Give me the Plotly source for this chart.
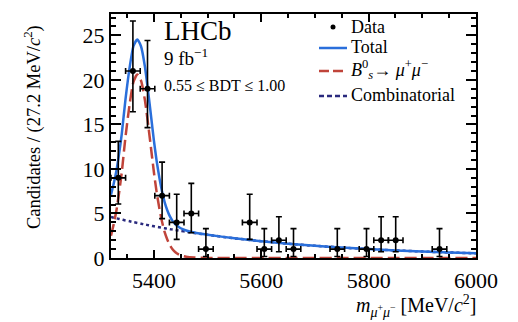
import plotly.graph_objects as go

# ---- binned data: 27.2 MeV/c^2 bins between 5320 and 6000 (empty bins omitted) ----
bin_centers = [5333.6, 5360.8, 5388.0, 5415.2, 5442.4, 5469.6, 5496.8, 5578.4,
               5605.6, 5632.8, 5660.0, 5741.6, 5796.0, 5823.2, 5850.4, 5932.0]
counts = [9, 21, 19, 7, 4, 5, 1, 4, 1, 2, 1, 1, 1, 2, 2, 1]
err_up = [4.10, 5.61, 5.43, 3.77, 3.16, 3.38, 2.30, 3.16,
          2.30, 2.64, 2.30, 2.30, 2.30, 2.64, 2.64, 2.30]
err_down = [2.94, 4.58, 4.36, 2.58, 1.91, 2.16, 0.83, 1.91,
            0.83, 1.29, 0.83, 0.83, 0.83, 1.29, 1.29, 0.83]
half_bin = [13.6] * len(bin_centers)

# ---- fit components (candidates per bin) ----
curve_mass = [5320, 5325, 5330, 5335, 5340, 5347, 5355, 5362, 5369, 5376, 5383, 5390,
              5395, 5400, 5405, 5410, 5415, 5420, 5425, 5430, 5435, 5440, 5445, 5450,
              5460, 5475, 5500, 5550, 5600, 5650, 5700, 5750, 5800, 5850, 5900, 5950, 6000]
signal = [2.5, 3.8, 5.3, 7.3, 9.6, 13.6, 17.4, 19.8, 20.6, 19.9, 17.8, 14.6,
          12.1, 9.6, 7.4, 5.6, 4.1, 2.9, 2.05, 1.4, 0.95, 0.65, 0.44, 0.3,
          0.14, 0.05, 0.01, 0.0, 0.0, 0.0, 0.0, 0.0, 0.0, 0.0, 0.0, 0.0, 0.0]
combinatorial = [4.60, 4.53, 4.46, 4.39, 4.32, 4.22, 4.12, 4.02, 3.94, 3.85, 3.76, 3.68,
                 3.62, 3.56, 3.50, 3.45, 3.39, 3.34, 3.29, 3.24, 3.19, 3.14, 3.09, 3.04,
                 2.95, 2.81, 2.60, 2.21, 1.89, 1.61, 1.37, 1.17, 1.00, 0.85, 0.73, 0.62, 0.53]
total = [s + c for s, c in zip(signal, combinatorial)]

BLUE = "#2a6fdb"
RED = "#c0443a"
NAVY = "#2a2a7e"
SERIF = "Liberation Serif, Times New Roman, serif"

fig = go.Figure()
fig.add_trace(go.Scatter(x=curve_mass, y=combinatorial, mode="lines",
                         line=dict(color=NAVY, width=2.5, dash="3px,3px", shape="spline", smoothing=0.6),
                         name="Combinatorial"))
fig.add_trace(go.Scatter(x=curve_mass, y=signal, mode="lines",
                         line=dict(color=RED, width=2.5, dash="12px,5px", shape="spline", smoothing=0.6),
                         name="Bs"))
fig.add_trace(go.Scatter(x=curve_mass, y=total, mode="lines",
                         line=dict(color=BLUE, width=2.5, shape="spline", smoothing=0.6),
                         name="Total"))
fig.add_trace(go.Scatter(
    x=bin_centers, y=counts, mode="markers", name="Data",
    marker=dict(color="black", size=6),
    error_x=dict(type="data", array=half_bin, color="black", thickness=1.6, width=3),
    error_y=dict(type="data", symmetric=False, array=err_up, arrayminus=err_down,
                 color="black", thickness=1.6, width=3),
))

# plot-area geometry in pixels (used for placing the legend and labels)
L, R, T, B = 111, 42, 14, 64
W, H = 518, 322
PW, PH = W - L - R, H - T - B


def px(x):
    return (x - L) / PW


def py(y):
    return (H - B - y) / PH


annotations = [
    dict(text="LHCb", x=px(162), y=py(31), xanchor="left", yanchor="middle",
         font=dict(size=27, family=SERIF, color="black")),
    dict(text="9 fb<sup>−1</sup>", x=px(162), y=py(57), xanchor="left", yanchor="middle",
         font=dict(size=19, family=SERIF, color="black")),
    dict(text="0.55 ≤ BDT ≤ 1.00", x=px(162), y=py(85), xanchor="left", yanchor="middle",
         font=dict(size=16, family=SERIF, color="black")),
    # legend texts
    dict(text="Data", x=px(349), y=py(27), xanchor="left", yanchor="middle",
         font=dict(size=18, family=SERIF, color="black")),
    dict(text="Total", x=px(349), y=py(47), xanchor="left", yanchor="middle",
         font=dict(size=18, family=SERIF, color="black")),
    dict(text="<i>B</i><sup>0</sup><sub><i>s</i></sub>→ <i>μ</i><sup>+</sup><i>μ</i><sup>−</sup>",
         x=px(349), y=py(69), xanchor="left", yanchor="middle",
         font=dict(size=18, family=SERIF, color="black")),
    dict(text="Combinatorial", x=px(349), y=py(95), xanchor="left", yanchor="middle",
         font=dict(size=18, family=SERIF, color="black")),
    # axis titles
    dict(text="Candidates / (27.2 MeV/<i>c</i><sup>2</sup>)", x=px(32), y=py(127),
         textangle=-90, xanchor="center", yanchor="middle",
         font=dict(size=18.5, family=SERIF, color="black")),
    dict(text="<i>m</i><sub><i>μ</i><sup>+</sup><i>μ</i><sup>−</sup></sub> [MeV/<i>c</i><sup>2</sup>]",
         x=px(478), y=py(306), xanchor="right", yanchor="middle",
         font=dict(size=20, family=SERIF, color="black")),
]
for a in annotations:
    a.update(xref="paper", yref="paper", showarrow=False)

shapes = [
    dict(type="circle", x0=px(330.5), x1=px(335.5), y0=py(24.5), y1=py(29.5),
         fillcolor="black", line=dict(color="black", width=0)),
    dict(type="line", x0=px(319), x1=px(347), y0=py(48), y1=py(48),
         line=dict(color=BLUE, width=2.5)),
    dict(type="line", x0=px(319), x1=px(347), y0=py(71), y1=py(71),
         line=dict(color=RED, width=2.5, dash="10px,4px")),
    dict(type="line", x0=px(319), x1=px(347), y0=py(96), y1=py(96),
         line=dict(color=NAVY, width=2.5, dash="5px,3px")),
]
for s in shapes:
    s.update(xref="paper", yref="paper")

fig.update_layout(
    width=W, height=H,
    margin=dict(l=L, r=R, t=T, b=B),
    paper_bgcolor="white", plot_bgcolor="white",
    showlegend=False,
    font=dict(family=SERIF, color="black"),
    annotations=annotations, shapes=shapes,
)
fig.update_xaxes(
    range=[5320, 6000], tickmode="array", tickvals=[5400, 5600, 5800, 6000],
    ticks="inside", ticklen=8, tickwidth=1.5, tickcolor="black",
    minor=dict(tickmode="linear", tick0=5300, dtick=50, ticks="inside", ticklen=4,
               tickcolor="black", tickwidth=1.5),
    showline=True, linecolor="black", linewidth=2, mirror="ticks",
    showgrid=False, zeroline=False, ticklabelstandoff=2,
    tickfont=dict(size=22, family=SERIF, color="black"),
)
fig.update_yaxes(
    range=[0, 27.4], tickmode="array", tickvals=[0, 5, 10, 15, 20, 25],
    ticks="inside", ticklen=10, tickwidth=1.5, tickcolor="black",
    minor=dict(tickmode="linear", tick0=0, dtick=1, ticks="inside", ticklen=5,
               tickcolor="black", tickwidth=1.5),
    showline=True, linecolor="black", linewidth=2, mirror="ticks",
    showgrid=False, zeroline=False,
    tickfont=dict(size=22, family=SERIF, color="black"),
)

fig.write_html("out.html")
